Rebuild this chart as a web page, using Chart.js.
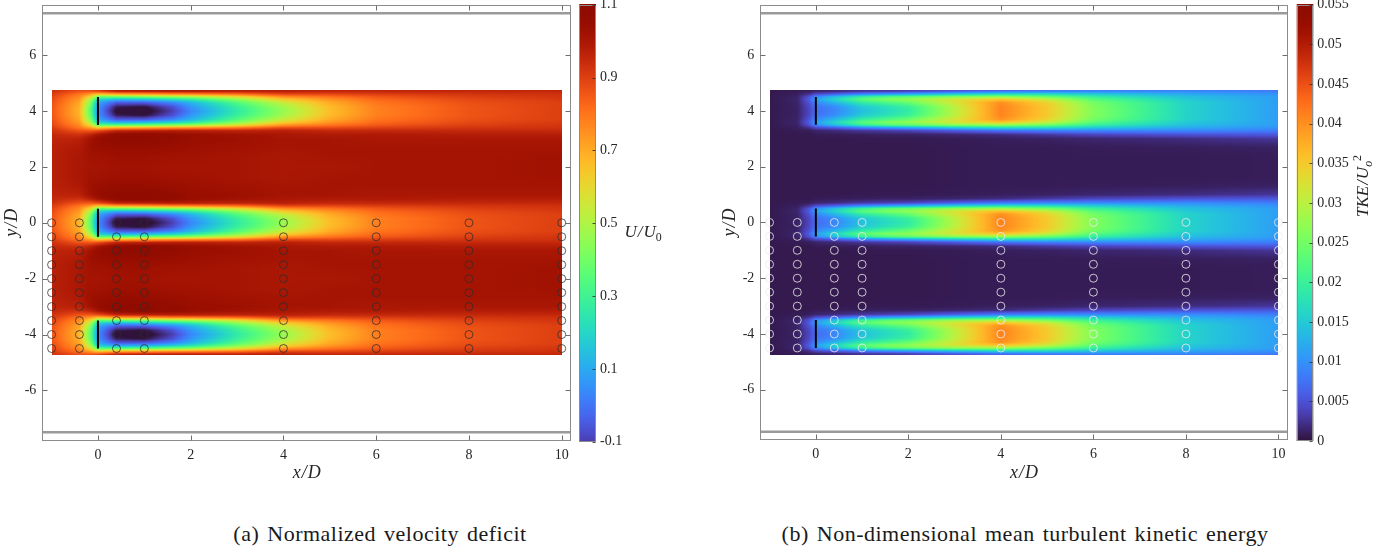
<!DOCTYPE html>
<html><head><meta charset="utf-8">
<script src="https://cdn.jsdelivr.net/npm/chart.js@4.4.1/dist/chart.umd.min.js"></script>
<style>
html,body{margin:0;padding:0;background:#fff}
#wrap{position:relative;width:1389px;height:553px;overflow:hidden;background:#fff}
canvas{position:absolute;top:0}
.cap{position:absolute;top:521px;font:22px "Liberation Serif",serif;letter-spacing:0.5px;word-spacing:2px;color:#1a1a1a;white-space:nowrap;transform:translateX(-50%)}
</style></head><body><div id="wrap">
<canvas id="m1" width="580" height="500" style="left:0"></canvas>
<canvas id="m2" width="600" height="500" style="left:700px"></canvas>
<canvas id="c1" width="120" height="500" style="left:570px"></canvas>
<canvas id="c2" width="104" height="500" style="left:1285px"></canvas>
<div class="cap" style="left:380px">(a) Normalized velocity deficit</div>
<div class="cap" style="left:1025px">(b) Non-dimensional mean turbulent kinetic energy</div>
</div>
<script>
// ---------- data ----------
const xTicks = [0, 2, 4, 6, 8, 10];
const yTicks = [-6, -4, -2, 0, 2, 4, 6];
const xRange = [-1.2, 10.2];
const yRange = [-7.8, 7.8];
const wallY = [7.5, -7.5];
const turbineX = 0;
const turbineY = [4, 0, -4];
const rotorHalf = 0.5;
const domainX = [-1, 10];
const domainY = [-4.75, 4.75];
const markerX = [-1, -0.4, 0.4, 1, 4, 6, 8, 10];
const markerY = [0, -0.5, -1, -1.5, -2, -2.5, -3, -3.5, -4, -4.5];

// wake profiles: rows = streamwise stations, columns = lateral offset from the turbine centreline
const xStations = [-1, -0.4, -0.15, 0, 0.4, 1, 1.6, 2, 3, 4, 5, 6, 8, 10];
const dyOffsets = [0, 0.15, 0.3, 0.4, 0.5, 0.6, 0.7, 0.85, 1.0, 1.3, 1.6, 2.0];
const velocityProfiles = [
  [0.86,0.86,0.87,0.88,0.89,0.91,0.93,0.95,0.96,0.97,0.97,0.97],
  [0.68,0.69,0.71,0.73,0.76,0.80,0.86,0.93,0.97,0.99,1.00,1.00],
  [0.34,0.36,0.41,0.48,0.58,0.72,0.85,0.97,1.02,1.03,1.02,1.01],
  [0.05,0.06,0.10,0.18,0.36,0.64,0.87,1.01,1.05,1.04,1.02,1.01],
  [-0.20,-0.16,-0.05,0.10,0.35,0.70,0.95,1.07,1.08,1.05,1.03,1.02],
  [-0.22,-0.18,-0.05,0.12,0.38,0.72,0.96,1.08,1.08,1.05,1.03,1.02],
  [-0.10,-0.07,0.03,0.18,0.42,0.75,0.97,1.06,1.06,1.04,1.02,1.01],
  [0.03,0.06,0.12,0.24,0.45,0.76,0.97,1.04,1.04,1.03,1.02,1.01],
  [0.26,0.28,0.34,0.43,0.57,0.80,0.96,1.02,1.03,1.02,1.01,1.01],
  [0.46,0.48,0.54,0.62,0.74,0.88,0.97,1.00,1.01,1.01,1.00,1.00],
  [0.66,0.67,0.70,0.74,0.80,0.88,0.95,0.99,1.01,1.01,1.01,1.00],
  [0.78,0.78,0.80,0.82,0.85,0.90,0.95,0.99,1.00,1.01,1.01,1.01],
  [0.86,0.86,0.87,0.88,0.90,0.92,0.95,0.98,1.00,1.01,1.01,1.01],
  [0.90,0.90,0.90,0.91,0.92,0.93,0.95,0.98,1.00,1.01,1.02,1.02]
];
const tkeProfiles = [
  [0.0006,0.0006,0.0006,0.0006,0.0006,0.0006,0.0006,0.0006,0.0006,0.0006,0.0006,0.0006],
  [0.0012,0.0012,0.0013,0.0014,0.0013,0.0010,0.0008,0.0006,0.0006,0.0006,0.0006,0.0006],
  [0.0040,0.0042,0.0050,0.0058,0.0050,0.0025,0.0010,0.0006,0.0006,0.0006,0.0006,0.0006],
  [0.0070,0.0075,0.0090,0.0110,0.0095,0.0045,0.0015,0.0008,0.0006,0.0006,0.0006,0.0006],
  [0.0090,0.0095,0.0130,0.0160,0.0140,0.0060,0.0020,0.0009,0.0006,0.0006,0.0006,0.0006],
  [0.0140,0.0150,0.0190,0.0230,0.0200,0.0090,0.0030,0.0010,0.0007,0.0006,0.0006,0.0006],
  [0.0170,0.0180,0.0220,0.0260,0.0230,0.0110,0.0035,0.0012,0.0007,0.0006,0.0006,0.0006],
  [0.0190,0.0200,0.0240,0.0270,0.0240,0.0120,0.0040,0.0012,0.0007,0.0006,0.0006,0.0006],
  [0.0300,0.0300,0.0320,0.0320,0.0270,0.0150,0.0060,0.0015,0.0008,0.0007,0.0007,0.0007],
  [0.0410,0.0410,0.0400,0.0360,0.0280,0.0170,0.0080,0.0020,0.0010,0.0008,0.0008,0.0008],
  [0.0350,0.0350,0.0340,0.0310,0.0250,0.0170,0.0090,0.0030,0.0012,0.0008,0.0008,0.0008],
  [0.0260,0.0260,0.0250,0.0230,0.0200,0.0150,0.0095,0.0040,0.0015,0.0009,0.0008,0.0008],
  [0.0160,0.0160,0.0160,0.0150,0.0140,0.0120,0.0095,0.0050,0.0020,0.0010,0.0008,0.0008],
  [0.0110,0.0110,0.0110,0.0110,0.0110,0.0100,0.0085,0.0055,0.0028,0.0012,0.0009,0.0009]
];
const velocityTicks = [-0.1, 0.1, 0.3, 0.5, 0.7, 0.9, 1.1];
const tkeTicks = [0, 0.005, 0.01, 0.015, 0.02, 0.025, 0.03, 0.035, 0.04, 0.045, 0.05, 0.055];
const velocityLimits = [-0.18, 1.1];   // colour limits of the map
const tkeLimits = [0, 0.055];

// ---------- helpers ----------
const SERIF = '"Liberation Serif", "DejaVu Serif", serif';
const TXT = '#262626';
function turboPoly(t){
  const r = 0.13572138+t*(4.61539260+t*(-42.66032258+t*(132.13108234+t*(-152.94239396+t*59.28637943))));
  const g = 0.09140261+t*(2.19418839+t*(4.84296658+t*(-14.18503333+t*(4.27729857+t*2.82956604))));
  const b = 0.10667330+t*(12.64194608+t*(-60.58204836+t*(110.36276771+t*(-89.90310912+t*27.34824973))));
  return [r*255, g*255, b*255];
}
const TURBO0 = [48, 18, 59];
const TURBO_LOW = turboPoly(0.06);
function turbo(t){
  t = Math.max(0, Math.min(1, t));
  let c;
  if (t < 0.06){ const f = t/0.06; c = TURBO0.map((v, k) => v + (TURBO_LOW[k]-v)*f); }
  else c = turboPoly(t);
  return c.map(v => Math.max(0, Math.min(255, Math.round(v))));
}
function locate(arr, v){
  if (v <= arr[0]) return [0, 0];
  if (v >= arr[arr.length-1]) return [arr.length-2, 1];
  for (let i=0;i<arr.length-1;i++) if (v <= arr[i+1]) return [i, (v-arr[i])/(arr[i+1]-arr[i])];
  return [arr.length-2, 1];
}
function sample(profiles, xv, dy){
  const [i, fx] = locate(xStations, xv);
  const [j, fy] = locate(dyOffsets, dy);
  const a = profiles[i][j]*(1-fy) + profiles[i][j+1]*fy;
  const b = profiles[i+1][j]*(1-fy) + profiles[i+1][j+1]*fy;
  return a*(1-fx) + b*fx;
}
function drawMath(ctx, parts, x, y, size, rot){
  ctx.save();
  ctx.translate(x, y);
  if (rot) ctx.rotate(rot);
  let w = 0;
  const m = parts.map(p => {
    const s = p.sub || p.sup ? size*0.7 : size;
    ctx.font = (p.it ? 'italic ' : '') + s + 'px ' + SERIF;
    const pw = ctx.measureText(p.t).width + (p.gap || 0);
    w += pw;
    return {p, s, pw};
  });
  let cx = -w/2;
  ctx.fillStyle = TXT;
  ctx.textBaseline = 'middle';
  ctx.textAlign = 'left';
  m.forEach(({p, s, pw}) => {
    ctx.font = (p.it ? 'italic ' : '') + s + 'px ' + SERIF;
    const dyy = p.sub ? size*0.3 : p.sup ? -size*0.36 : 0;
    ctx.fillText(p.t, cx + (p.gap || 0), dyy);
    cx += pw;
  });
  ctx.restore();
}
function zeroPad(s){ s.paddingTop = 0; s.paddingBottom = 0; s.paddingLeft = 0; s.paddingRight = 0; }

// ---------- plugins ----------
const fieldPlugin = {
  id: 'field',
  beforeDatasetsDraw(chart){
    const o = chart.options.plugins.field;
    if (!o || !o.profiles) return;
    const {ctx} = chart; const xs = chart.scales.x, ys = chart.scales.y;
    const x0 = Math.round(xs.getPixelForValue(domainX[0])), x1 = Math.round(xs.getPixelForValue(domainX[1]));
    const y0 = Math.round(ys.getPixelForValue(domainY[1])), y1 = Math.round(ys.getPixelForValue(domainY[0]));
    const w = x1 - x0, h = y1 - y0;
    const img = ctx.createImageData(w, h);
    const d = img.data;
    for (let j=0;j<h;j++){
      const yv = ys.getValueForPixel(y0 + j + 0.5);
      let dy = Infinity;
      turbineY.forEach(c => { dy = Math.min(dy, Math.abs(yv - c)); });
      for (let i=0;i<w;i++){
        const xv = xs.getValueForPixel(x0 + i + 0.5);
        const v = sample(o.profiles, xv, dy);
        const col = turbo((v - o.limits[0])/(o.limits[1]-o.limits[0]));
        const k = (j*w + i)*4;
        d[k]=col[0]; d[k+1]=col[1]; d[k+2]=col[2]; d[k+3]=255;
      }
    }
    ctx.putImageData(img, x0, y0);
  }
};
const framePlugin = {
  id: 'frame',
  afterDraw(chart){
    const o = chart.options.plugins.frame;
    const {ctx, chartArea: ca} = chart; const xs = chart.scales.x, ys = chart.scales.y;
    ctx.save();
    ctx.strokeStyle = '#8c8c8c'; ctx.lineWidth = 1;
    const L = Math.round(ca.left)+0.5, R = Math.round(ca.right)-0.5, T = Math.round(ca.top)+0.5, B = Math.round(ca.bottom)-0.5;
    ctx.strokeRect(L, T, R-L, B-T);
    ctx.strokeStyle = '#6e6e6e';
    ctx.beginPath();
    xTicks.forEach(v => { const p = Math.round(xs.getPixelForValue(v))+0.5;
      ctx.moveTo(p, T); ctx.lineTo(p, T+5); ctx.moveTo(p, B); ctx.lineTo(p, B-5); });
    yTicks.forEach(v => { const p = Math.round(ys.getPixelForValue(v))+0.5;
      ctx.moveTo(L, p); ctx.lineTo(L+5, p); ctx.moveTo(R, p); ctx.lineTo(R-5, p); });
    ctx.stroke();
    ctx.restore();
    drawMath(ctx, [{t:'x', it:true}, {t:'/', it:true, gap:1}, {t:'D', it:true, gap:1}], (ca.left+ca.right)/2, 473, 18, 0);
    drawMath(ctx, [{t:'y', it:true}, {t:'/', it:true, gap:1}, {t:'D', it:true, gap:1}], o.yTitleX, (ca.top+ca.bottom)/2, 18, -Math.PI/2);
  }
};
const colorbarPlugin = {
  id: 'cbar',
  beforeDatasetsDraw(chart){
    const o = chart.options.plugins.cbar;
    const {ctx, chartArea: ca} = chart; const ys = chart.scales.y;
    for (let py = Math.floor(ca.top); py < Math.ceil(ca.bottom); py++){
      const v = ys.getValueForPixel(py + 0.5);
      const c = turbo((v - o.limits[0])/(o.limits[1]-o.limits[0]));
      ctx.fillStyle = 'rgb(' + c.join(',') + ')';
      ctx.fillRect(ca.left, py, ca.right - ca.left, 1);
    }
    ctx.save();
    ctx.strokeStyle = '#8c8c8c'; ctx.lineWidth = 1;
    const L = Math.round(ca.left)+0.5, R = Math.round(ca.right)-0.5, T = Math.round(ca.top)+0.5, B = Math.round(ca.bottom)-0.5;
    ctx.strokeRect(L, T, R-L, B-T);
    ctx.strokeStyle = 'rgba(50,50,50,0.85)';
    ctx.beginPath();
    o.ticks.forEach(v => { const p = Math.round(ys.getPixelForValue(v))+0.5;
      ctx.moveTo(R, p); ctx.lineTo(R-3, p); });
    ctx.stroke();
    ctx.restore();
    drawMath(ctx, o.label, o.labelX, o.labelY, 17, o.labelRot);
  }
};

// ---------- charts ----------
function makePanel(id, o){
  const markerData = [];
  markerX.forEach(x => markerY.forEach(y => markerData.push({x, y})));
  const datasets = [
    ...wallY.map(w => ({type:'line', data:[{x:xRange[0], y:w}, {x:xRange[1], y:w}], borderColor:'#9a9a9a', borderWidth:2.5, pointRadius:0})),
    ...turbineY.map(c => ({type:'line', data:[{x:turbineX, y:c-rotorHalf}, {x:turbineX, y:c+rotorHalf}], borderColor:'#000', borderWidth:2, pointRadius:0})),
    {type:'scatter', data:markerData, pointRadius:4, pointHoverRadius:4, pointBorderWidth:0.9,
     pointBorderColor:o.markerColor, pointBackgroundColor:'rgba(0,0,0,0)', clip:false}
  ];
  const tickFont = {family: SERIF, size: 14};
  return new Chart(document.getElementById(id), {
    type: 'scatter',
    data: {datasets},
    options: {
      responsive: false, animation: false, events: [],
      layout: {padding: {left: 0, right: o.padRight, top: 4.3, bottom: 0}},
      plugins: {legend: {display: false}, tooltip: {enabled: false},
        field: {profiles: o.profiles, limits: o.limits}, frame: {yTitleX: o.yTitleX}},
      scales: {
        x: {type: 'linear', min: xRange[0], max: xRange[1],
            afterBuildTicks: s => { s.ticks = xTicks.map(v => ({value: v})); },
            afterFit: s => { s.height = o.xAxisH; zeroPad(s); },
            grid: {display: false, drawTicks: false}, border: {display: false},
            ticks: {font: tickFont, color: TXT, padding: 6, autoSkip: false, maxRotation: 0}},
        y: {type: 'linear', min: yRange[0], max: yRange[1],
            afterBuildTicks: s => { s.ticks = yTicks.map(v => ({value: v})); },
            afterFit: s => { s.width = o.yAxisW; zeroPad(s); },
            grid: {display: false, drawTicks: false}, border: {display: false},
            ticks: {font: tickFont, color: TXT, padding: 6, autoSkip: false}}
      }
    },
    plugins: [fieldPlugin, framePlugin]
  });
}
function makeColorbar(id, o){
  return new Chart(document.getElementById(id), {
    type: 'scatter',
    data: {datasets: [{data: []}]},
    options: {
      responsive: false, animation: false, events: [],
      layout: {padding: {left: o.padLeft, right: 0, top: 4.7, bottom: o.padBottom}},
      plugins: {legend: {display: false}, tooltip: {enabled: false},
        cbar: {limits: o.limits, ticks: o.ticks, label: o.label, labelX: o.labelX, labelY: o.labelY, labelRot: o.labelRot}},
      scales: {
        x: {display: false, min: 0, max: 1},
        y: {position: 'right', min: o.ticks[0], max: o.ticks[o.ticks.length-1],
            afterBuildTicks: s => { s.ticks = o.ticks.map(v => ({value: v})); },
            afterFit: s => { s.width = o.axisW; zeroPad(s); },
            grid: {display: false, drawTicks: false}, border: {display: false},
            ticks: {font: {family: SERIF, size: 14}, color: TXT, padding: 4, autoSkip: false,
                    callback: v => String(+Number(v).toFixed(4))}}
      }
    },
    plugins: [colorbarPlugin]
  });
}

makePanel('m1', {profiles: velocityProfiles, limits: velocityLimits, markerColor: 'rgba(45,45,45,0.85)',
  yAxisW: 42.3, padRight: 9, xAxisH: 59.3, yTitleX: 12});
makePanel('m2', {profiles: tkeProfiles, limits: tkeLimits, markerColor: 'rgba(235,235,235,0.9)',
  yAxisW: 60.3, padRight: 12.3, xAxisH: 60, yTitleX: 30});
makeColorbar('c1', {limits: velocityLimits, ticks: velocityTicks, padLeft: 9.3, axisW: 94, padBottom: 58.3,
  label: [{t:'U', it:true}, {t:'/', it:true, gap:1}, {t:'U', it:true, gap:1}, {t:'0', sub:true}], labelX: 73, labelY: 233, labelRot: 0});
makeColorbar('c2', {limits: tkeLimits, ticks: tkeTicks, padLeft: 11.7, axisW: 75.7, padBottom: 59,
  label: [{t:'TKE', it:true}, {t:'/', it:true, gap:1}, {t:'U', it:true, gap:1}, {t:'o', it:true, sub:true}, {t:'2', sup:true}], labelX: 79, labelY: 186, labelRot: -Math.PI/2});
</script>
</body></html>
